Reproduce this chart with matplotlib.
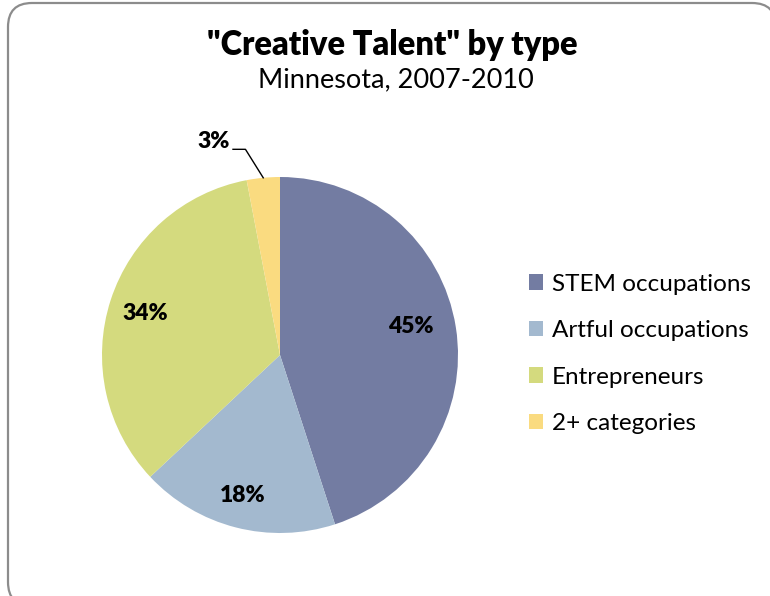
import numpy as np
import matplotlib.pyplot as plt
from matplotlib.patches import FancyBboxPatch

categories = ["STEM occupations", "Artful occupations", "Entrepreneurs", "2+ categories"]
shares = [45, 18, 34, 3]
colors = ["#737ca2", "#a3b9cf", "#d4da7e", "#fadb80"]

plt.rcParams['font.family'] = ['Lato', 'DejaVu Sans']

W, H = 770, 596
fig = plt.figure(figsize=(W / 100, H / 100), dpi=100)

# background axes in pixel units for the rounded border
bg = fig.add_axes([0, 0, 1, 1], zorder=-1)
bg.set_xlim(0, W)
bg.set_ylim(H, 0)
bg.axis('off')
bg.add_patch(FancyBboxPatch((8, 3), 768, 603, boxstyle="round,pad=0,rounding_size=24",
                            facecolor='white', edgecolor='#8c8c8c', linewidth=1.6,
                            clip_on=False))

fig.text(392 / W, 1 - 45 / H, '"Creative Talent" by type', ha='center', va='center',
         fontsize=23.5, fontweight='heavy')
fig.text(396 / W, 1 - 80 / H, 'Minnesota, 2007-2010', ha='center', va='center',
         fontsize=19.5)

ax = fig.add_axes([(280 - 178) / W, 1 - (355 + 178) / H, 356 / W, 356 / H])
wedges, _ = ax.pie(shares, colors=colors, startangle=90, counterclock=False,
                   radius=1.0)
ax.set_xlim(-1, 1)
ax.set_ylim(-1, 1)
ax.set_aspect('equal')
ax.axis('off')

# data labels
label_pos = [(0.735, 0.16), (-0.21, -0.79), (-0.755, 0.235)]
for (x, y), v in zip(label_pos, shares[:3]):
    ax.text(x, y, f"{v}%", ha='center', va='center', fontsize=16.5, fontweight='heavy')

# leader line for the small slice
w = wedges[3]
mid = np.deg2rad((w.theta1 + w.theta2) / 2)
anchor = np.array([np.cos(mid), np.sin(mid)])
elbow = anchor + np.array([-0.1, 0.16])
end = elbow + np.array([-0.07, 0])
ax.plot([anchor[0], elbow[0], end[0]], [anchor[1], elbow[1], end[1]],
        color='black', lw=1, clip_on=False)
ax.text(end[0] - 0.02, end[1] - 0.015, f"{shares[3]}%", ha='right', va='bottom',
        fontsize=16.5, fontweight='heavy', clip_on=False)

fig.legend(wedges, categories, loc='center left',
           bbox_to_anchor=(507 / W, 1 - 354 / H), frameon=False,
           fontsize=17.5, handlelength=0.6, handleheight=0.6, handletextpad=0.35,
           labelspacing=1.05)

fig.savefig("out.png", dpi=100)
